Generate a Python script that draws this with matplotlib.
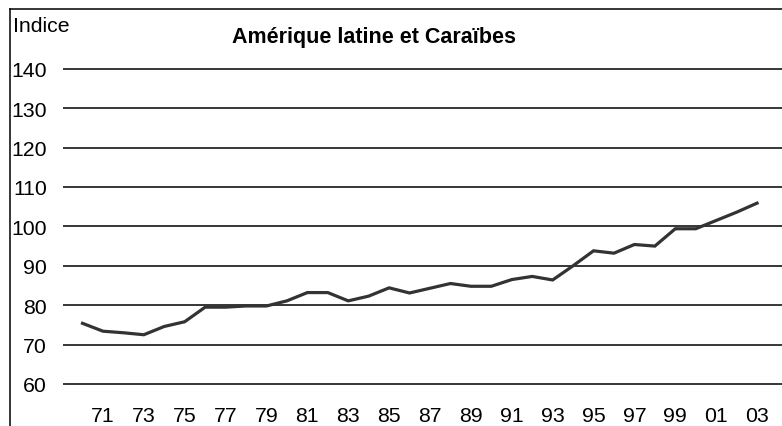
import numpy as np
import matplotlib
matplotlib.use("Agg")
import matplotlib.pyplot as plt
from matplotlib.lines import Line2D

plt.rcParams['font.family'] = ['Liberation Sans', 'DejaVu Sans']

# indice, Amérique latine et Caraïbes, 1970-2003
years = np.arange(1970, 2004)
indice = [75.4, 73.4, 73.0, 72.5, 74.6, 75.8, 79.5, 79.5, 79.8, 79.8,
          81.1, 83.2, 83.2, 81.1, 82.3, 84.4, 83.1, 84.3, 85.5, 84.8,
          84.8, 86.5, 87.3, 86.4, 90.0, 93.8, 93.2, 95.4, 95.0, 99.4,
          99.4, 101.5, 103.6, 105.9]
tick_years = np.arange(1971, 2004, 2)
tick_labels = ['%02d' % (y % 100) for y in tick_years]
grid_vals = np.arange(60, 150, 10)

W, H = 782, 427
fig = plt.figure(figsize=(W / 100, H / 100), dpi=100)

# axes box in pixels: x 63..782, y 9.5..400 (from top)
left, top, bottom = 63, 9.5, 400
ax = fig.add_axes([left / W, 1 - bottom / H, 1 - left / W, (bottom - top) / H])

ax.plot(years, indice, color='#333333', lw=2.3, solid_joinstyle='miter', zorder=3)

for v in grid_vals:
    ax.axhline(v, color='black', lw=1.1, zorder=1)

ax.set_xlim(1969.046, 2004.22)
ax.set_ylim(56.19, 155.3)
ax.set_yticks(grid_vals)
ax.set_yticklabels([str(v) for v in grid_vals])
ax.set_xticks(tick_years)
ax.set_xticklabels(tick_labels)
ax.tick_params(axis='y', length=0, pad=11.5, labelsize=15.3)
ax.tick_params(axis='x', length=0, pad=5, labelsize=15.3)
for s in ax.spines.values():
    s.set_visible(False)

# outer frame (only left and top edges show in the crop)
fig.add_artist(Line2D([9.5 / W, 9.5 / W], [0, 1 - 9.5 / H], color='black', lw=1.1,
                      transform=fig.transFigure))
fig.add_artist(Line2D([9.5 / W, 1], [1 - 9.5 / H, 1 - 9.5 / H], color='black', lw=1.1,
                      transform=fig.transFigure))

fig.text(13 / W, 1 - 27 / H, 'Indice', fontsize=15.3, ha='left', va='center')
fig.text(374 / W, 1 - 37 / H, 'Amérique latine et Caraïbes', fontsize=15.5,
         fontweight='bold', ha='center', va='center')

fig.savefig('out.png', dpi=100)
